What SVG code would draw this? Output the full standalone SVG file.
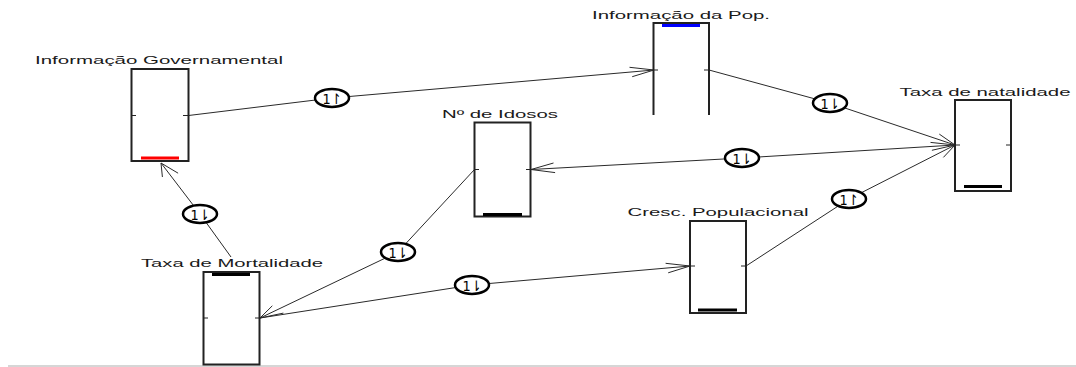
<svg xmlns="http://www.w3.org/2000/svg" width="1076" height="367" viewBox="0 0 1076 367">
<style>
.box{fill:none;stroke:#222;stroke-width:2}
.tick{stroke:#222;stroke-width:1}
.lbl{font-family:"Liberation Sans",Arial,sans-serif;font-size:11.5px;fill:#1a1a1a;text-anchor:middle}
.bar{stroke-width:3}
.ln{fill:none;stroke:#2a2a2a;stroke-width:1}
.head{fill:none;stroke:#2a2a2a;stroke-width:1}
.flow ellipse{fill:#fff;stroke:#000;stroke-width:2.5}
.flow text{font-family:"DejaVu Sans",sans-serif;font-size:14.5px;fill:#000;text-anchor:middle}
</style>
<rect width="1076" height="367" fill="#fff"/>
<line x1="8" y1="366" x2="1076" y2="366" stroke="#c8c8c8" stroke-width="1.5"/>

<g id="connectors">
  <g id="c-gov-pop">
    <polyline class="ln" points="188.5,115.5 332,98 654,70"/>
    <polyline class="head" points="629.5,67.3 654,70 632.2,76.7"/>
  </g>
  <g id="c-pop-nat">
    <polyline class="ln" points="709,70 830,103 955,145"/>
    <polyline class="head" points="939.3,134.1 955,145 930.5,142.4"/>
  </g>
  <g id="c-nat-idosos">
    <polyline class="ln" points="955,145 742,158 531,169.5"/>
    <polyline class="head" points="555.1,172.6 531,169.5 553.5,163"/>
  </g>
  <g id="c-cresc-nat">
    <polyline class="ln" points="746,266 849,199 955,145"/>
    <polyline class="head" points="931.9,150.3 955,145 943.4,157.4"/>
  </g>
  <g id="c-mort-gov">
    <polyline class="ln" points="231,257 200,214 161,163"/>
    <polyline class="head" points="162.4,177 161,163 178.1,173.2"/>
  </g>
  <g id="c-idosos-mort">
    <polyline class="ln" points="474.5,169.5 398,252 260,318"/>
    <polyline class="head" points="283.4,313.1 260,318 272.3,305.8"/>
  </g>
  <g id="c-mort-cresc">
    <polyline class="ln" points="260,318 472,285 690,266"/>
    <polyline class="head" points="665.6,263.3 690,266 668.2,272.8"/>
  </g>
  <g class="flow">
    <ellipse cx="332" cy="98" rx="17" ry="9"/><text x="332" y="103.5" textLength="19" lengthAdjust="spacingAndGlyphs">1↾</text>
    <ellipse cx="830" cy="103" rx="17" ry="9"/><text x="830" y="108.5" textLength="19" lengthAdjust="spacingAndGlyphs">1⇂</text>
    <ellipse cx="742" cy="158" rx="17" ry="9"/><text x="742" y="163.5" textLength="19" lengthAdjust="spacingAndGlyphs">1⇂</text>
    <ellipse cx="849" cy="199" rx="17" ry="9"/><text x="849" y="204.5" textLength="19" lengthAdjust="spacingAndGlyphs">1↾</text>
    <ellipse cx="200" cy="214" rx="17" ry="9"/><text x="200" y="219.5" textLength="19" lengthAdjust="spacingAndGlyphs">1⇂</text>
    <ellipse cx="398" cy="252" rx="17" ry="9"/><text x="398" y="257.5" textLength="19" lengthAdjust="spacingAndGlyphs">1⇂</text>
    <ellipse cx="472" cy="285" rx="17" ry="9"/><text x="472" y="290.5" textLength="19" lengthAdjust="spacingAndGlyphs">1⇂</text>
  </g>
</g>

<g id="node-gov">
  <text class="lbl" x="159" y="64" textLength="248" lengthAdjust="spacingAndGlyphs">Informação Governamental</text>
  <rect class="box" x="131.5" y="69" width="57" height="92"/>
  <line class="tick" x1="131.5" y1="115.5" x2="136" y2="115.5"/>
  <line class="tick" x1="183" y1="115.5" x2="188.5" y2="115.5"/>
  <line class="bar" x1="141" y1="158" x2="179" y2="158" stroke="#ff0000"/>
</g>

<g id="node-pop">
  <text class="lbl" x="681" y="18.5" textLength="178" lengthAdjust="spacingAndGlyphs">Informação da Pop.</text>
  <path class="box" d="M653.5,115 V23 H709 V115"/>
  <line class="tick" x1="653.5" y1="70" x2="658" y2="70"/>
  <line class="tick" x1="704" y1="70" x2="709" y2="70"/>
  <line class="bar" x1="662" y1="25.5" x2="700" y2="25.5" stroke="#0000ff"/>
</g>

<g id="node-idosos">
  <text class="lbl" x="500" y="118" textLength="116" lengthAdjust="spacingAndGlyphs">Nº de Idosos</text>
  <rect class="box" x="474.5" y="122.5" width="56" height="94"/>
  <line class="tick" x1="474.5" y1="169.5" x2="479" y2="169.5"/>
  <line class="tick" x1="526" y1="169.5" x2="530.5" y2="169.5"/>
  <line class="bar" x1="483" y1="214.5" x2="522" y2="214.5" stroke="#000"/>
</g>

<g id="node-nat">
  <text class="lbl" x="985" y="96" textLength="171" lengthAdjust="spacingAndGlyphs">Taxa de natalidade</text>
  <rect class="box" x="955" y="100" width="56" height="91"/>
  <line class="tick" x1="955" y1="145" x2="960" y2="145"/>
  <line class="tick" x1="1006" y1="145" x2="1011" y2="145"/>
  <line class="bar" x1="964" y1="186.5" x2="1002" y2="186.5" stroke="#000"/>
</g>

<g id="node-cresc">
  <text class="lbl" x="718" y="215.5" textLength="181" lengthAdjust="spacingAndGlyphs">Cresc. Populacional</text>
  <rect class="box" x="690" y="221" width="56" height="92"/>
  <line class="tick" x1="690" y1="266" x2="695" y2="266"/>
  <line class="tick" x1="741" y1="266" x2="746" y2="266"/>
  <line class="bar" x1="698" y1="310" x2="737" y2="310" stroke="#000"/>
</g>

<g id="node-mort">
  <text class="lbl" x="232" y="267" textLength="182" lengthAdjust="spacingAndGlyphs">Taxa de Mortalidade</text>
  <rect class="box" x="203.5" y="272" width="56" height="92.5"/>
  <line class="tick" x1="203.5" y1="318" x2="208" y2="318"/>
  <line class="tick" x1="255" y1="318" x2="259.5" y2="318"/>
  <line class="bar" x1="212" y1="274.5" x2="250" y2="274.5" stroke="#000"/>
</g>
</svg>
